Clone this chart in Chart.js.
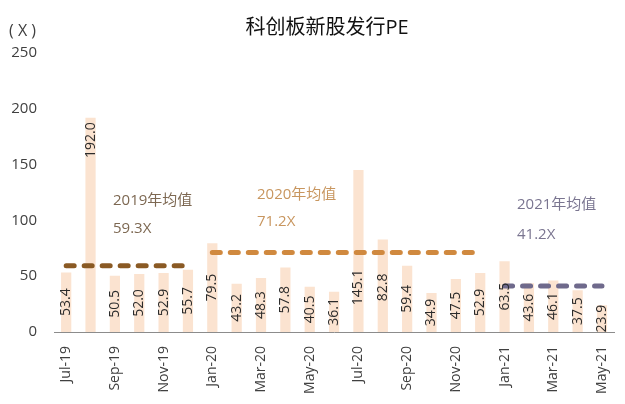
<!DOCTYPE html>
<html>
<head>
<meta charset="utf-8">
<script src="https://cdn.jsdelivr.net/npm/chart.js@4/dist/chart.umd.min.js"></script>
<style>
  html, body { margin: 0; padding: 0; background: #fff; }
  #wrap { width: 625px; height: 404px; position: relative; }
</style>
</head>
<body>
<div id="wrap"><canvas id="chart"></canvas></div>
<script>
// months shown on the x axis
const months = ['Jul-19','Aug-19','Sep-19','Oct-19','Nov-19','Dec-19',
  'Jan-20','Feb-20','Mar-20','Apr-20','May-20','Jun-20','Jul-20','Aug-20','Sep-20','Oct-20','Nov-20','Dec-20',
  'Jan-21','Feb-21','Mar-21','Apr-21','May-21'];

// new listing PE per month
const peValues = [53.4, 192.0, 50.5, 52.0, 52.9, 55.7,
  79.5, 43.2, 48.3, 57.8, 40.5, 36.1, 145.1, 82.8, 59.4, 34.9, 47.5, 52.9,
  63.5, 43.6, 46.1, 37.5, 23.9];

// yearly averages
const avgYears = ['19', '20', '21'];
const avgValues = [59.3, 71.2, 41.2];
const avgLabels = ['2019年均值', '2020年均值', '2021年均值'];
const avgColors = ['#8a5a24', '#d0893f', '#6f6a8c'];
const avgTextColors = ['#7d6852', '#c8965f', '#7a7590'];

const yTicks = [0, 50, 100, 150, 200, 250];

const FONT = '"Open Sans", "Noto Sans CJK SC", sans-serif';

// one dashed line per year, only over that year's months
const avgDatasets = avgYears.map((yr, k) => ({
  type: 'line',
  data: months.map(m => m.endsWith(yr) ? avgValues[k] : null),
  borderColor: avgColors[k],
  borderWidth: 5,
  borderDash: [8, 10],
  borderCapStyle: 'round',
  pointRadius: 0,
  spanGaps: false,
  order: 1
}));

// data labels, rotated, drawn inside the bars
const barLabels = {
  id: 'barLabels',
  afterDatasetsDraw(chart) {
    const c = chart.ctx;
    const y = chart.scales.y;
    const meta = chart.getDatasetMeta(0);
    c.save();
    c.font = '14px ' + FONT;
    c.fillStyle = '#2b2b2b';
    c.textAlign = 'center';
    c.textBaseline = 'middle';
    meta.data.forEach((bar, i) => {
      const v = peValues[i];
      const at = v > 150 ? v - 20 : Math.min(v / 2, 40);
      c.save();
      c.translate(bar.x, y.getPixelForValue(at));
      c.rotate(-Math.PI / 2);
      c.fillText(v.toFixed(1), 0, 0);
      c.restore();
    });
    c.restore();
  }
};

// title, unit and the average notes
const extras = {
  id: 'extras',
  afterDraw(chart) {
    const c = chart.ctx;
    c.save();
    c.textBaseline = 'middle';
    c.textAlign = 'center';
    c.fillStyle = '#111';
    c.font = '20px ' + FONT;
    c.fillText('科创板新股发行PE', 327, 28);

    c.textAlign = 'left';
    c.fillStyle = '#404040';
    c.font = '16px ' + FONT;
    c.fillText('( X )', 9, 31);

    const pos = [[113, 201, 229], [257, 195, 222], [517, 205, 235]];
    c.font = '15px ' + FONT;
    pos.forEach((p, k) => {
      c.fillStyle = avgTextColors[k];
      c.fillText(avgLabels[k], p[0], p[1]);
      c.fillText(avgValues[k].toFixed(1) + 'X', p[0], p[2]);
    });
    c.restore();
  }
};

const ctx = document.getElementById('chart').getContext('2d');
const chart = new Chart(ctx, {
  type: 'bar',
  data: {
    labels: months,
    datasets: [{
      label: 'PE',
      data: peValues,
      backgroundColor: '#fbe3d0',
      barPercentage: 0.42,
      categoryPercentage: 1,
      order: 2
    }].concat(avgDatasets)
  },
  options: {
    responsive: true,
    maintainAspectRatio: false,
    animation: false,
    layout: { padding: { left: 8, right: 10, top: 53, bottom: 4 } },
    plugins: {
      legend: { display: false },
      tooltip: { enabled: false }
    },
    scales: {
      x: {
        grid: { display: false },
        border: { display: true, color: '#8c8c8c', width: 1 },
        ticks: {
          autoSkip: false,
          minRotation: 90,
          maxRotation: 90,
          padding: 6,
          color: '#404040',
          font: { family: FONT, size: 14 },
          callback: (v, i) => i % 2 === 0 ? months[i] : ''
        },
        afterFit: s => { s.height = 68; }
      },
      y: {
        min: 0,
        max: 250,
        grid: { display: false },
        border: { display: false },
        afterBuildTicks: s => { s.ticks = yTicks.map(v => ({ value: v })); },
        ticks: {
          padding: 9,
          color: '#404040',
          font: { family: FONT, size: 15 }
        },
        afterFit: s => { s.width = 46; }
      }
    }
  },
  plugins: [barLabels, extras]
});
</script>
</body>
</html>
